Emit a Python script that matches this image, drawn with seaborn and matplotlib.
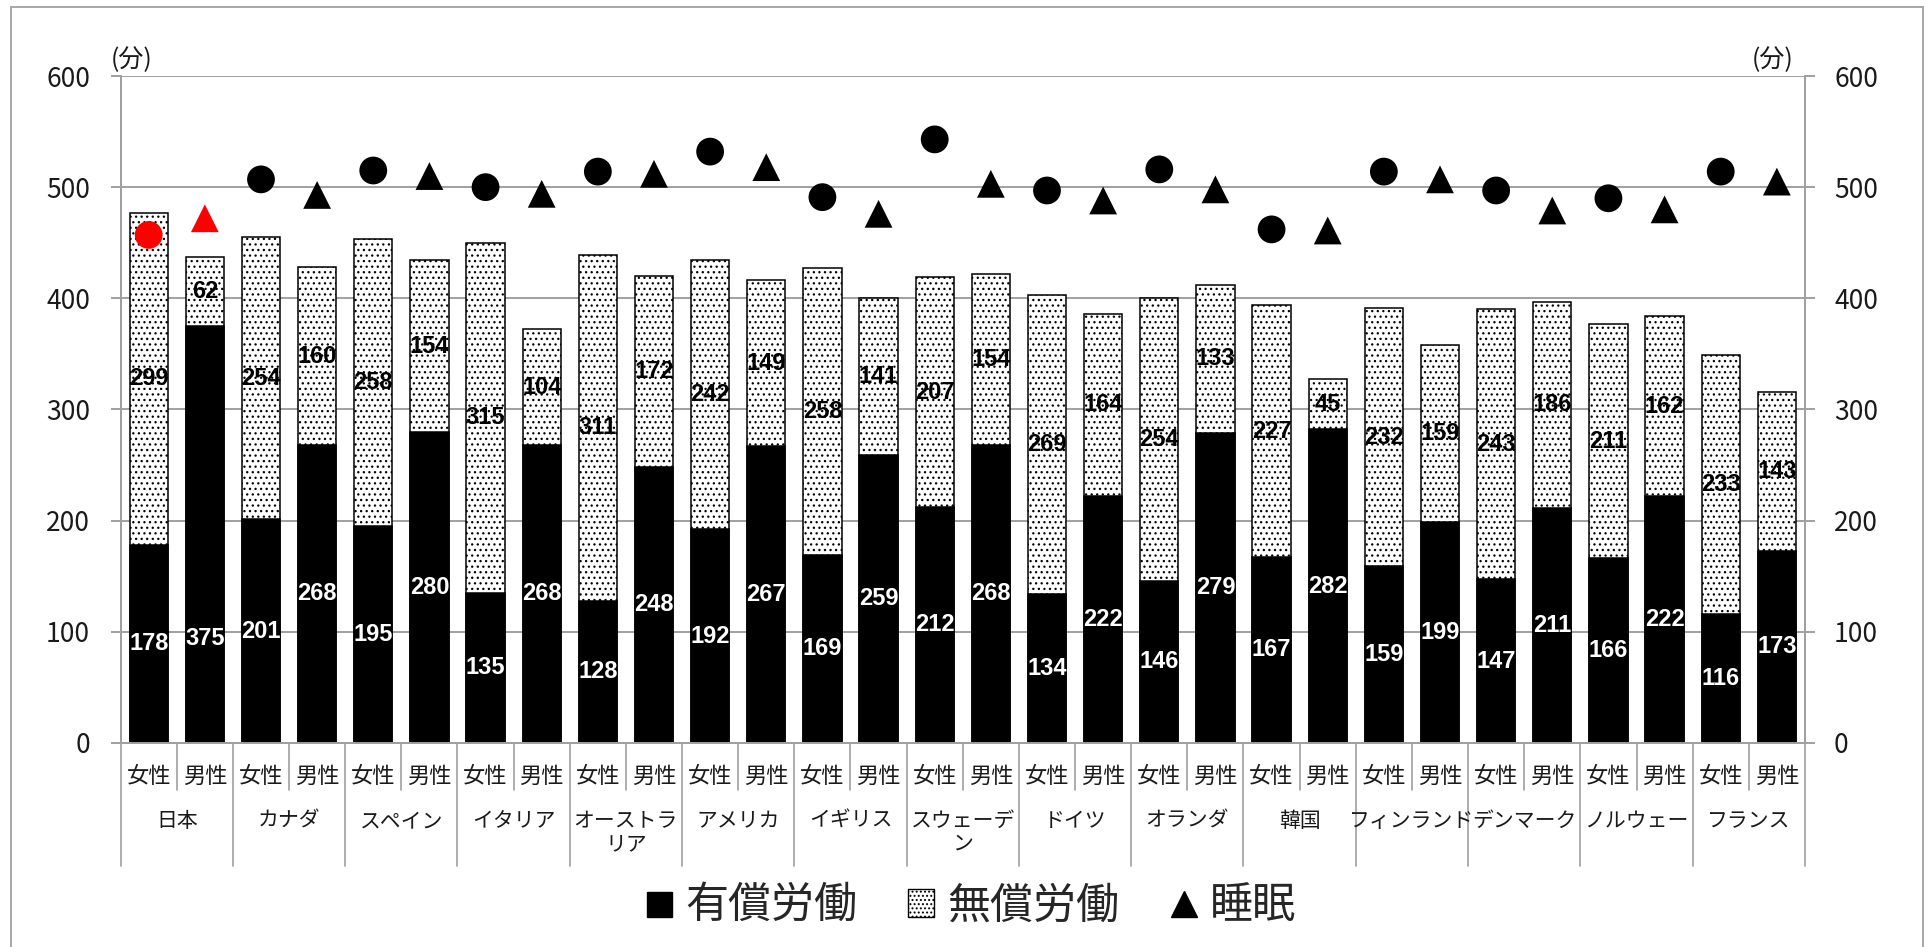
import matplotlib.pyplot as plt
import matplotlib.patches as mpatches
from matplotlib.lines import Line2D
from matplotlib import font_manager
import seaborn as sns
import pandas as pd

# 国・性別ごとの1日の時間（分）
countries = ['日本', 'カナダ', 'スペイン', 'イタリア', 'オーストラ\nリア', 'アメリカ', 'イギリス',
             'スウェーデ\nン', 'ドイツ', 'オランダ', '韓国', 'フィンランド', 'デンマーク', 'ノルウェー', 'フランス']
sexes = ['女性', '男性']
paid_f = [178, 201, 195, 135, 128, 192, 169, 212, 134, 146, 167, 159, 147, 166, 116]
paid_m = [375, 268, 280, 268, 248, 267, 259, 268, 222, 279, 282, 199, 211, 222, 173]
unpaid_f = [299, 254, 258, 315, 311, 242, 258, 207, 269, 254, 227, 232, 243, 211, 233]
unpaid_m = [62, 160, 154, 104, 172, 149, 141, 154, 164, 133, 45, 159, 186, 162, 143]
sleep_f = [457, 507, 515, 500, 514, 532, 491, 543, 497, 516, 462, 514, 497, 490, 514]
sleep_m = [472, 493, 510, 494, 512, 518, 476, 503, 488, 498, 461, 507, 479, 480, 505]
legend_labels = ['有償労働', '無償労働', '睡眠']

rows = []
for i, c in enumerate(countries):
    for s, p, u, sl in [('女性', paid_f[i], unpaid_f[i], sleep_f[i]), ('男性', paid_m[i], unpaid_m[i], sleep_m[i])]:
        rows.append({'country': c, 'sex': s, 'paid': p, 'unpaid': u, 'sleep': sl,
                     'grp': 'jp' if c == '日本' else 'other'})
df = pd.DataFrame(rows)
df['total'] = df['paid'] + df['unpaid']
df['key'] = df['country'] + '_' + df['sex']
df['pos'] = range(len(df))

sns.set_theme(style='white')
plt.rcParams['font.family'] = ['Noto Sans CJK JP', 'DejaVu Sans']
plt.rcParams['hatch.color'] = 'black'
plt.rcParams['hatch.linewidth'] = 0.9

names = {f.name for f in font_manager.fontManager.ttflist}
num_font = 'Liberation Sans Narrow' if 'Liberation Sans Narrow' in names else 'Liberation Sans'

grid_c = '#a0a0a0'
txt_c = '#1a1a1a'

fig = plt.figure(figsize=(19.3, 9.47), dpi=100)
ax = fig.add_axes([0.0625, 0.2157, 0.8727, 0.704])

sns.barplot(data=df, x='key', y='total', color='white', edgecolor='black', linewidth=1.1,
            hatch='...', width=0.68, saturation=1, errorbar=None, ax=ax, zorder=2)
sns.barplot(data=df, x='key', y='paid', color='black', edgecolor='black', linewidth=1.1,
            width=0.68, saturation=1, errorbar=None, ax=ax, zorder=3)

ax.set_ylim(0, 600)
ax.set_xlim(-0.5, len(df) - 0.5)
ax.set_yticks(range(0, 601, 100))
ax.yaxis.grid(True, color=grid_c, lw=1.4)
ax.set_axisbelow(True)
ax.set_xticks([])
ax.set_xlabel('')
ax.set_ylabel('')
ax.spines['top'].set_visible(False)
for sp in ['left', 'bottom', 'right']:
    ax.spines[sp].set_color(grid_c)
    ax.spines[sp].set_linewidth(1.4)
ax.tick_params(axis='y', left=True, length=7, width=1.4, color=grid_c, labelsize=19,
               labelcolor=txt_c, pad=15)

# データラベル
paid_label_y = {'日本_男性': 94}
for _, r in df.iterrows():
    ax.text(r['pos'], paid_label_y.get(r['key'], r['paid'] / 2), str(r['paid']), ha='center', va='center',
            color='white', fontsize=17, fontweight='bold', family=num_font, zorder=5)
    ax.text(r['pos'], r['paid'] + r['unpaid'] / 2, str(r['unpaid']), ha='center', va='center',
            color='black', fontsize=17, fontweight='bold', family=num_font, zorder=5)

# 2段の軸ラベル
xt = ax.get_xaxis_transform()
for _, r in df.iterrows():
    ax.text(r['pos'], -0.050, r['sex'], transform=xt, ha='center', va='center', fontsize=16, color=txt_c)
for i, c in enumerate(countries):
    ax.text(2 * i + 0.5, -0.101, c, transform=xt, ha='center', va='top', fontsize=15, color=txt_c,
            linespacing=1.05)
for k in range(len(df) + 1):
    low = -0.185 if k % 2 == 0 else -0.071
    ax.plot([k - 0.5, k - 0.5], [0, low], transform=xt, color=grid_c, lw=1.2, clip_on=False)

# 睡眠（右軸）
ax2 = ax.twinx()
sns.scatterplot(data=df, x='pos', y='sleep', style='sex', markers={'女性': 'o', '男性': '^'},
                hue='grp', palette={'jp': '#ff0000', 'other': 'black'}, s=400, linewidth=0,
                legend=False, ax=ax2, zorder=6)
ax2.set_ylim(0, 600)
ax2.set_xlim(-0.5, len(df) - 0.5)
ax2.set_yticks(range(0, 601, 100))
ax2.set_xlabel('')
ax2.set_ylabel('')
ax2.spines['top'].set_visible(False)
for sp in ['left', 'bottom', 'right']:
    ax2.spines[sp].set_color(grid_c)
    ax2.spines[sp].set_linewidth(1.4)
ax2.tick_params(axis='y', right=True, length=7, width=1.4, color=grid_c, labelsize=19,
                labelcolor=txt_c, pad=14)

fig.text(0.0683, 0.937, '(分)', ha='center', va='center', fontsize=18, color=txt_c)
fig.text(0.9187, 0.937, '(分)', ha='center', va='center', fontsize=18, color=txt_c)

handles = [Line2D([], [], marker='s', ls='', color='black', markersize=18),
           mpatches.Patch(facecolor='white', edgecolor='black', hatch='....', lw=1),
           Line2D([], [], marker='^', ls='', color='black', markersize=19)]
fig.legend(handles, legend_labels, loc='center', bbox_to_anchor=(0.503, 0.043), ncol=3,
           frameon=False, fontsize=31, handlelength=0.6, handleheight=0.6,
           handletextpad=0.3, columnspacing=1.2)

fig.add_artist(mpatches.Rectangle((0.0057, -0.01), 0.9907, 1.0026, transform=fig.transFigure,
                                  fill=False, edgecolor='#a0a0a0', lw=1.3))

fig.savefig('out.png', dpi=100)
